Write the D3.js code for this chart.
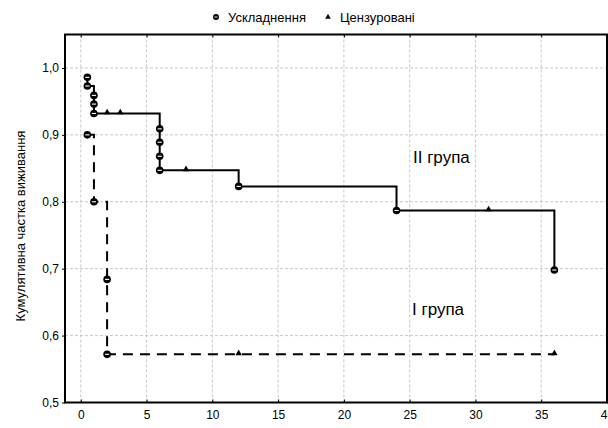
<!DOCTYPE html>
<html>
<head>
<meta charset="utf-8">
<script src="https://cdn.jsdelivr.net/npm/d3@7"></script>
<style>
  body { margin: 0; background: #fff; }
  svg { display: block; font-family: "Liberation Sans", Arial, sans-serif; }
</style>
</head>
<body>
<div id="chart"></div>
<script>
// Group II (solid line): events and censored points
const group2Events = [
  [0.5, 0.986], [0.5, 0.973], [1, 0.959], [1, 0.946], [1, 0.932],
  [6, 0.909], [6, 0.889], [6, 0.868], [6, 0.847],
  [12, 0.823], [24, 0.787], [36, 0.698]
];
const group2Censored = [[2, 0.932], [3, 0.932], [8, 0.847], [31, 0.787]];

// Group I (dashed line)
const group1Events = [[0.5, 0.9], [1, 0.8], [2, 0.684], [2, 0.572]];
const group1Censored = [[12, 0.572], [36, 0.572]];

const xTicks = [0, 5, 10, 15, 20, 25, 30, 35, 40];
const yTicks = [0.5, 0.6, 0.7, 0.8, 0.9, 1.0];
const legendItems = ['Ускладнення', 'Цензуровані'];

const width = 608, height = 428;
const svg = d3.select('#chart').append('svg')
    .attr('width', width)
    .attr('height', height);

const x = d3.scaleLinear().domain([-1.2, 40]).range([65, 607]);
const y = d3.scaleLinear().domain([0.5, 1.05]).range([402.5, 34.5]);

// grid
svg.append('g').selectAll('line')
    .data(xTicks.filter(d => d < 40))
    .join('line')
    .attr('x1', d => x(d)).attr('x2', d => x(d))
    .attr('y1', y(1.05)).attr('y2', y(0.5))
    .attr('stroke', '#c8c8c8').attr('stroke-dasharray', '3,2');
svg.append('g').selectAll('line')
    .data(yTicks.filter(d => d > 0.5))
    .join('line')
    .attr('x1', x(-1.2)).attr('x2', x(40))
    .attr('y1', d => y(d)).attr('y2', d => y(d))
    .attr('stroke', '#c8c8c8').attr('stroke-dasharray', '3,2');

// axes
const fmt = d => d.toFixed(1).replace('.', ',');
const font = '"Liberation Sans", Arial, sans-serif';
svg.append('g')
    .attr('transform', `translate(0,${y(0.5)})`)
    .call(d3.axisBottom(x).tickValues(xTicks).tickSizeInner(-3).tickSizeOuter(0).tickPadding(8))
    .call(g => g.select('.domain').remove())
    .call(g => g.selectAll('text').attr('font-size', 12).attr('font-family', font));
svg.append('g')
    .attr('transform', `translate(${x(-1.2)},0)`)
    .call(d3.axisLeft(y).tickValues(yTicks).tickFormat(fmt).tickSizeInner(3).tickSizeOuter(0).tickPadding(3))
    .call(g => g.select('.domain').remove())
    .call(g => g.selectAll('text').attr('font-size', 12).attr('font-family', font));
svg.append('g')
    .attr('transform', `translate(0,${y(1.05)})`)
    .call(d3.axisTop(x).tickValues(xTicks).tickFormat('').tickSizeInner(-3).tickSizeOuter(0))
    .call(g => g.select('.domain').remove());
svg.append('g')
    .attr('transform', `translate(${x(40)},0)`)
    .call(d3.axisRight(y).tickValues(yTicks).tickFormat('').tickSizeInner(3).tickSizeOuter(0))
    .call(g => g.select('.domain').remove());

// frame
svg.append('rect')
    .attr('x', x(-1.2)).attr('y', y(1.05))
    .attr('width', x(40) - x(-1.2)).attr('height', y(0.5) - y(1.05))
    .attr('fill', 'none').attr('stroke', '#000').attr('stroke-width', 2);

// step lines through events + censored points, time order
function stepPoints(events, censored) {
  return events.concat(censored).sort((a, b) => a[0] - b[0] || b[1] - a[1]);
}
const line = d3.line().x(d => x(d[0])).y(d => y(d[1])).curve(d3.curveStepAfter);

svg.append('path')
    .datum(stepPoints(group2Events, group2Censored))
    .attr('d', line)
    .attr('fill', 'none').attr('stroke', '#000').attr('stroke-width', 2);
svg.append('path')
    .datum(stepPoints(group1Events, group1Censored))
    .attr('d', line)
    .attr('fill', 'none').attr('stroke', '#000').attr('stroke-width', 2)
    .attr('stroke-dasharray', '10,7');

// markers
function circleMarker(sel, r, lw) {
  sel.append('circle').attr('r', r).attr('fill', '#000');
  sel.append('line').attr('x1', -r * 0.55).attr('x2', r * 0.55)
      .attr('stroke', '#fff').attr('stroke-width', lw);
}
const tri = d3.symbol().type(d3.symbolTriangle).size(18);

svg.append('g').selectAll('g')
    .data(group2Events.concat(group1Events))
    .join('g')
    .attr('transform', d => `translate(${x(d[0])},${y(d[1])})`)
    .call(circleMarker, 3.8, 1.1);
svg.append('g').selectAll('path')
    .data(group2Censored.concat(group1Censored))
    .join('path')
    .attr('d', tri)
    .attr('transform', d => `translate(${x(d[0])},${y(d[1]) - 1})`)
    .attr('fill', '#000');

// group labels
svg.append('text').attr('x', 413).attr('y', 163).attr('font-size', 17).text('II група');
svg.append('text').attr('x', 412).attr('y', 315).attr('font-size', 17).text('I група');

// y axis title
svg.append('text')
    .attr('transform', 'translate(25,226) rotate(-90)')
    .attr('text-anchor', 'middle')
    .attr('font-size', 13)
    .text('Кумулятивна частка виживання');

// legend
const leg = svg.append('g');
leg.append('g').attr('transform', 'translate(216,17)').call(circleMarker, 3, 0.9);
leg.append('text').attr('x', 228).attr('y', 21.5).attr('font-size', 13).text(legendItems[0]);
leg.append('path').attr('d', d3.symbol().type(d3.symbolTriangle).size(14))
    .attr('transform', 'translate(328,17)');
leg.append('text').attr('x', 340).attr('y', 21.5).attr('font-size', 13).text(legendItems[1]);
</script>
</body>
</html>
